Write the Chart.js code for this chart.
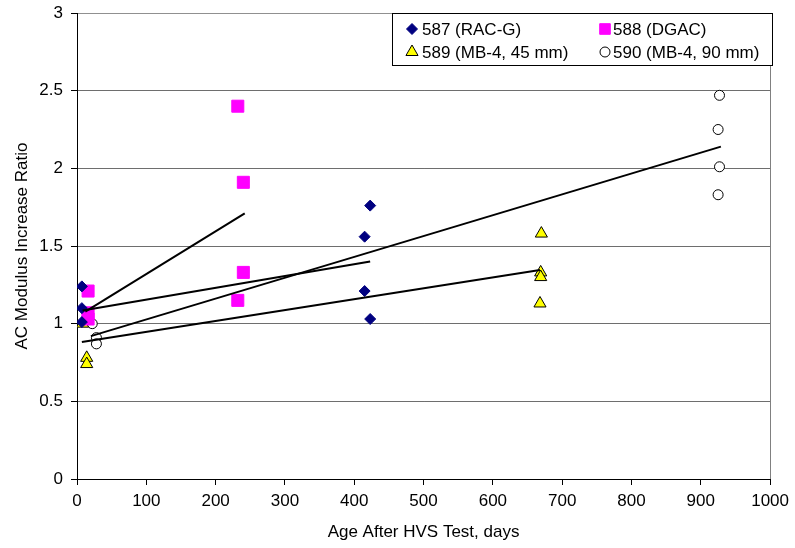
<!DOCTYPE html>
<html>
<head>
<meta charset="utf-8">
<script src="https://cdn.jsdelivr.net/npm/chart.js@4/dist/chart.umd.min.js"></script>
<style>
  html, body { margin: 0; padding: 0; background: #fff; }
  #wrap { width: 795px; height: 548px; }
</style>
</head>
<body>
<div id="wrap"><canvas id="chart" width="795" height="548"></canvas></div>
<script>
// measured points, age in days vs modulus ratio
const racX = [7, 7, 7, 415, 415, 423, 423];
const racY = [1.24, 1.10, 1.01, 1.56, 1.21, 1.76, 1.03];
const dgacX = [16, 16, 16, 232, 240, 240, 232];
const dgacY = [1.21, 1.07, 1.03, 2.40, 1.91, 1.33, 1.15];
const mb45X = [8, 14, 14, 670, 669, 669, 668];
const mb45Y = [1.00, 0.78, 0.74, 1.58, 1.33, 1.30, 1.13];
const mb90X = [22, 28, 28, 927, 925, 927, 925];
const mb90Y = [1.00, 0.91, 0.87, 2.47, 2.25, 2.01, 1.83];

// trend line end points (x0, x1) / (y0, y1)
const racTrendX = [8, 423];
const racTrendY = [1.085, 1.40];
const dgacTrendX = [12, 242];
const dgacTrendY = [1.077, 1.71];
const mb45TrendX = [7, 668];
const mb45TrendY = [0.882, 1.345];
const mb90TrendX = [20, 929];
const mb90TrendY = [0.92, 2.14];

const seriesNames = ['587 (RAC-G)', '588 (DGAC)', '589 (MB-4, 45 mm)', '590 (MB-4, 90 mm)'];
const xTicks = [0, 100, 200, 300, 400, 500, 600, 700, 800, 900, 1000];
const yTicks = [0, 0.5, 1, 1.5, 2, 2.5, 3];

const FONT = '"Liberation Sans", Arial, sans-serif';
const toPts = (xs, ys) => xs.map((x, i) => ({ x: x, y: ys[i] }));

const markerStyles = [
  { pointStyle: 'rectRot', radius: 5.5, fill: '#000080', stroke: '#000080', bw: 1 },
  { pointStyle: 'rect', radius: 8.5, fill: '#ff00ff', stroke: '#ff00ff', bw: 1 },
  { pointStyle: 'triangle', radius: 7, fill: '#ffff00', stroke: '#000000', bw: 1 },
  { pointStyle: 'circle', radius: 5, fill: '#ffffff', stroke: '#000000', bw: 1 }
];

const pointSets = [toPts(racX, racY), toPts(dgacX, dgacY), toPts(mb45X, mb45Y), toPts(mb90X, mb90Y)];
const trendSets = [
  toPts(racTrendX, racTrendY), toPts(dgacTrendX, dgacTrendY),
  toPts(mb45TrendX, mb45TrendY), toPts(mb90TrendX, mb90TrendY)
];

const datasets = [];
pointSets.forEach((pts, i) => {
  const m = markerStyles[i];
  datasets.push({
    label: seriesNames[i],
    data: pts,
    pointStyle: m.pointStyle,
    pointRadius: m.radius,
    backgroundColor: m.fill,
    borderColor: m.stroke,
    borderWidth: m.bw,
    showLine: false,
    order: 1
  });
});
trendSets.forEach((pts) => {
  datasets.push({
    label: '',
    data: pts,
    showLine: true,
    borderColor: '#000',
    borderWidth: 2,
    pointRadius: 0,
    order: 0
  });
});

// small legend box drawn inside the plot, top right
const legendBox = {
  id: 'legendBox',
  afterDraw(chart) {
    const ctx = chart.ctx;
    ctx.save();
    ctx.fillStyle = '#fff';
    ctx.fillRect(392.5, 13.5, 380, 52);
    ctx.strokeStyle = '#000';
    ctx.lineWidth = 1;
    ctx.strokeRect(392.5, 13.5, 380, 52);
    const spots = [[412, 29], [605, 29], [412, 52], [605, 52]];
    ctx.font = '17px ' + FONT;
    ctx.textBaseline = 'middle';
    seriesNames.forEach((name, i) => {
      const m = markerStyles[i];
      const [x, y] = spots[i];
      ctx.fillStyle = m.fill;
      ctx.strokeStyle = m.stroke;
      ctx.lineWidth = m.bw;
      Chart.helpers.drawPoint(ctx, { pointStyle: m.pointStyle, radius: i === 1 ? 7.5 : m.radius, rotation: 0, borderWidth: m.bw }, x, y);
      ctx.fillStyle = '#000';
      ctx.fillText(name, x + (i % 2 ? 8 : 10), y + 1);
    });
    ctx.restore();
  }
};

new Chart(document.getElementById('chart'), {
  type: 'scatter',
  data: { datasets: datasets },
  plugins: [legendBox],
  options: {
    responsive: false,
    devicePixelRatio: 1,
    animation: false,
    layout: { padding: { top: 13, right: 24, left: 0, bottom: 0 } },
    plugins: { legend: { display: false }, tooltip: { enabled: false } },
    scales: {
      x: {
        type: 'linear',
        min: 0,
        max: 1000,
        afterBuildTicks: (s) => { s.ticks = xTicks.map(v => ({ value: v })); },
        afterFit: (s) => { s.height = 69; },
        ticks: { color: '#000', font: { size: 17, family: FONT }, padding: 6, maxRotation: 0, callback: (v) => String(v) },
        grid: {
          drawOnChartArea: true,
          color: (c) => (c.tick && c.tick.value === 1000 ? '#808080' : 'rgba(0,0,0,0)'),
          tickColor: '#000',
          tickLength: 6
        },
        border: { color: '#000', width: 1 },
        title: {
          display: true,
          text: 'Age After HVS Test, days',
          color: '#000',
          font: { size: 17, family: FONT },
          padding: { top: 0, bottom: 5 }
        }
      },
      y: {
        type: 'linear',
        min: 0,
        max: 3,
        afterBuildTicks: (s) => { s.ticks = yTicks.map(v => ({ value: v })); },
        afterFit: (s) => { s.width = 77; s.paddingTop = 0; s.paddingBottom = 0; },
        ticks: { color: '#000', font: { size: 17, family: FONT }, padding: 8, callback: (v) => String(v) },
        grid: {
          color: (c) => (c.tick && c.tick.value === 3 ? '#909090' : '#6e6e6e'),
          tickColor: '#000',
          tickLength: 6
        },
        border: { color: '#000', width: 1 },
        title: {
          display: true,
          text: 'AC Modulus Increase Ratio',
          color: '#000',
          font: { size: 17, family: FONT },
          padding: { top: 12, bottom: 0 }
        }
      }
    }
  }
});
</script>
</body>
</html>
